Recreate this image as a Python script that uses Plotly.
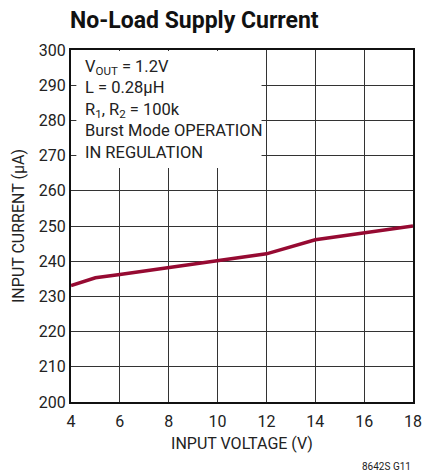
import plotly.graph_objects as go

input_voltage = [4, 5, 6, 8, 10, 12, 14, 16, 18]
input_current = [233.1, 235.3, 236.2, 238.1, 240.1, 242.1, 246.1, 248.1, 250.0]

x_ticks = [4, 6, 8, 10, 12, 14, 16, 18]
y_ticks = [200, 210, 220, 230, 240, 250, 260, 270, 280, 290, 300]

FONT = "Roboto, Arial, sans-serif"

fig = go.Figure()
fig.add_trace(go.Scatter(
    x=input_voltage, y=input_current, mode="lines",
    line=dict(color="#960a32", width=3.5), showlegend=False,
))

fig.update_layout(
    width=434, height=471,
    margin=dict(l=71, r=12, t=50, b=69),
    paper_bgcolor="white", plot_bgcolor="white",
    font=dict(family=FONT, size=16, color="#222"),
    title=dict(text="<b>No-Load Supply Current</b>", x=70/434, xanchor="left",
               y=1-20/471, yanchor="middle",
               font=dict(family=FONT, size=23, color="#111")),
)
fig.update_xaxes(
    range=[4, 18], tickvals=x_ticks, showgrid=True, gridcolor="#333", gridwidth=1,
    showline=True, linecolor="#111", linewidth=2, mirror=True,
    ticks="outside", ticklen=4, tickcolor="rgba(0,0,0,0)",
    title=dict(text="INPUT VOLTAGE (V)", font=dict(size=16), standoff=8),
    zeroline=False, tickfont=dict(size=16),
)
fig.update_yaxes(
    range=[200, 300], tickvals=y_ticks, showgrid=True, gridcolor="#333", gridwidth=1,
    showline=True, linecolor="#111", linewidth=2, mirror=True,
    ticks="",
    title=dict(text="INPUT CURRENT (µA)", font=dict(size=16), standoff=10),
    zeroline=False, tickfont=dict(size=16),
)

fig.add_shape(type="rect", xref="x", yref="y", x0=4.22, x1=11.8, y0=266.5, y1=299.7,
              fillcolor="white", line=dict(width=0), layer="above")

fig.add_annotation(
    xref="x", yref="y", x=4.5, y=298.7, xanchor="left", yanchor="top", align="left",
    showarrow=False,
    text="V<sub>OUT</sub> = 1.2V<br>L = 0.28µH<br>R<sub>1</sub>, R<sub>2</sub> = 100k<br>Burst Mode OPERATION<br>IN REGULATION",
    font=dict(family=FONT, size=16.5, color="#222"),
)
fig.add_annotation(
    xref="paper", yref="paper", x=1, y=-(466-402)/352, xanchor="right", yanchor="middle",
    showarrow=False, text="8642S G11", font=dict(family=FONT, size=10, color="#222"),
)

fig.write_html("out.html", config={"displayModeBar": False},
               post_script="document.body.style.margin='0';")
